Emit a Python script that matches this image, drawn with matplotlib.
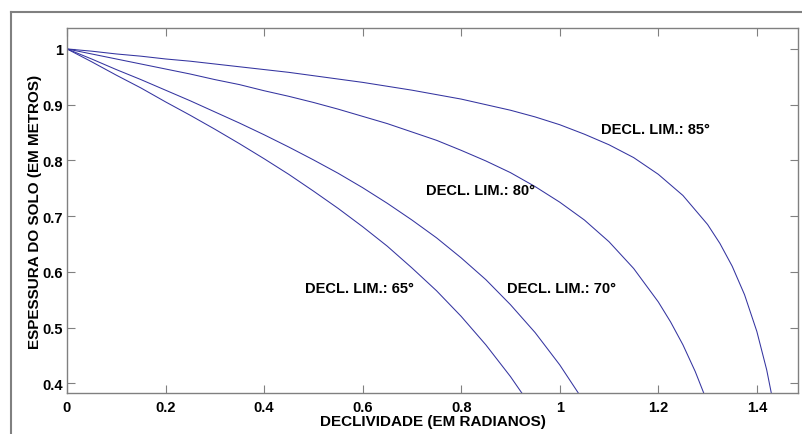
import matplotlib
matplotlib.use('Agg')
import matplotlib.pyplot as plt
from matplotlib.lines import Line2D

plt.rcParams['font.family'] = ['Liberation Sans', 'DejaVu Sans']
plt.rcParams['font.weight'] = 'bold'

# soil thickness vs slope, one curve per limit slope
x65 = [0, 0.05, 0.1, 0.15, 0.2, 0.25, 0.3, 0.35, 0.4, 0.45, 0.5, 0.55, 0.6, 0.65,
       0.7, 0.75, 0.8, 0.85, 0.9, 0.95]
y65 = [1.000, 0.977, 0.953, 0.930, 0.905, 0.881, 0.856, 0.830, 0.803, 0.775, 0.745,
       0.714, 0.681, 0.646, 0.607, 0.566, 0.520, 0.469, 0.412, 0.348]

x70 = [0, 0.05, 0.1, 0.15, 0.2, 0.25, 0.3, 0.35, 0.4, 0.45, 0.5, 0.55, 0.6, 0.65,
       0.7, 0.75, 0.8, 0.85, 0.9, 0.95, 1.0, 1.05]
y70 = [1.000, 0.982, 0.963, 0.945, 0.926, 0.907, 0.887, 0.867, 0.846, 0.824, 0.801,
       0.777, 0.751, 0.723, 0.693, 0.661, 0.625, 0.586, 0.541, 0.491, 0.433, 0.366]

x80 = [0, 0.05, 0.1, 0.15, 0.2, 0.25, 0.3, 0.35, 0.4, 0.45, 0.5, 0.55, 0.6, 0.65,
       0.7, 0.75, 0.8, 0.85, 0.9, 0.95, 1.0, 1.05, 1.1, 1.15, 1.2, 1.225, 1.25,
       1.275, 1.3]
y80 = [1.000, 0.991, 0.982, 0.973, 0.964, 0.955, 0.945, 0.936, 0.925, 0.915, 0.904,
       0.892, 0.879, 0.866, 0.851, 0.836, 0.818, 0.799, 0.778, 0.753, 0.725, 0.693,
       0.654, 0.606, 0.546, 0.510, 0.469, 0.421, 0.365]

x85 = [0, 0.05, 0.1, 0.15, 0.2, 0.25, 0.3, 0.35, 0.4, 0.45, 0.5, 0.55, 0.6, 0.65,
       0.7, 0.75, 0.8, 0.85, 0.9, 0.95, 1.0, 1.05, 1.1, 1.15, 1.2, 1.25, 1.3, 1.325,
       1.35, 1.375, 1.4, 1.42, 1.44]
y85 = [1.000, 0.996, 0.991, 0.987, 0.982, 0.978, 0.973, 0.968, 0.963, 0.958, 0.952,
       0.946, 0.940, 0.933, 0.926, 0.918, 0.910, 0.900, 0.890, 0.878, 0.864, 0.847,
       0.828, 0.805, 0.775, 0.737, 0.685, 0.651, 0.610, 0.559, 0.493, 0.424, 0.335]

labels = ['DECL. LIM.: 65°', 'DECL. LIM.: 70°', 'DECL. LIM.: 80°', 'DECL. LIM.: 85°']
label_pos = [(0.483, 0.571), (0.893, 0.571), (0.729, 0.746), (1.084, 0.857)]

xticks = [0, 0.2, 0.4, 0.6, 0.8, 1.0, 1.2, 1.4]
xticklabels = ['0', '0.2', '0.4', '0.6', '0.8', '1', '1.2', '1.4']
yticks = [0.4, 0.5, 0.6, 0.7, 0.8, 0.9, 1.0]
yticklabels = ['0.4', '0.5', '0.6', '0.7', '0.8', '0.9', '1']

line_col = '#3434a0'
frame_col = '#808080'

fig = plt.figure(figsize=(8.02, 4.35), dpi=100)
ax = fig.add_axes([0.0835, 0.0936, 0.9115, 0.839])

for xs, ys in [(x65, y65), (x70, y70), (x80, y80), (x85, y85)]:
    ax.plot(xs, ys, color=line_col, lw=0.75)

for txt, (tx, ty) in zip(labels, label_pos):
    ax.text(tx, ty, txt, fontsize=10.5, fontweight='bold', ha='left', va='center')

ax.set_xlim(0, 1.4835)
ax.set_ylim(0.382, 1.037)
ax.set_xticks(xticks)
ax.set_xticklabels(xticklabels)
ax.set_yticks(yticks)
ax.set_yticklabels(yticklabels)
ax.tick_params(direction='in', length=5.5, width=0.8, color=frame_col,
               top=True, right=True, labelsize=10.5)
ax.tick_params(axis='x', pad=5)
ax.tick_params(axis='y', pad=3)
for s in ax.spines.values():
    s.set_color(frame_col)
    s.set_linewidth(1.0)

ax.set_xlabel('DECLIVIDADE (EM RADIANOS)', fontsize=11, fontweight='bold', labelpad=0)
ax.set_ylabel('ESPESSURA DO SOLO (EM METROS)', fontsize=11, fontweight='bold', labelpad=0)

# outer grey frame of the original window
W, H = 802, 435
fig.add_artist(Line2D([10.5 / W, 10.5 / W], [0, 1 - 13 / H], color=frame_col, lw=1.5))
fig.add_artist(Line2D([10.5 / W, 1], [1 - 13 / H, 1 - 13 / H], color=frame_col, lw=1.5))

fig.savefig('out.png', dpi=100)
